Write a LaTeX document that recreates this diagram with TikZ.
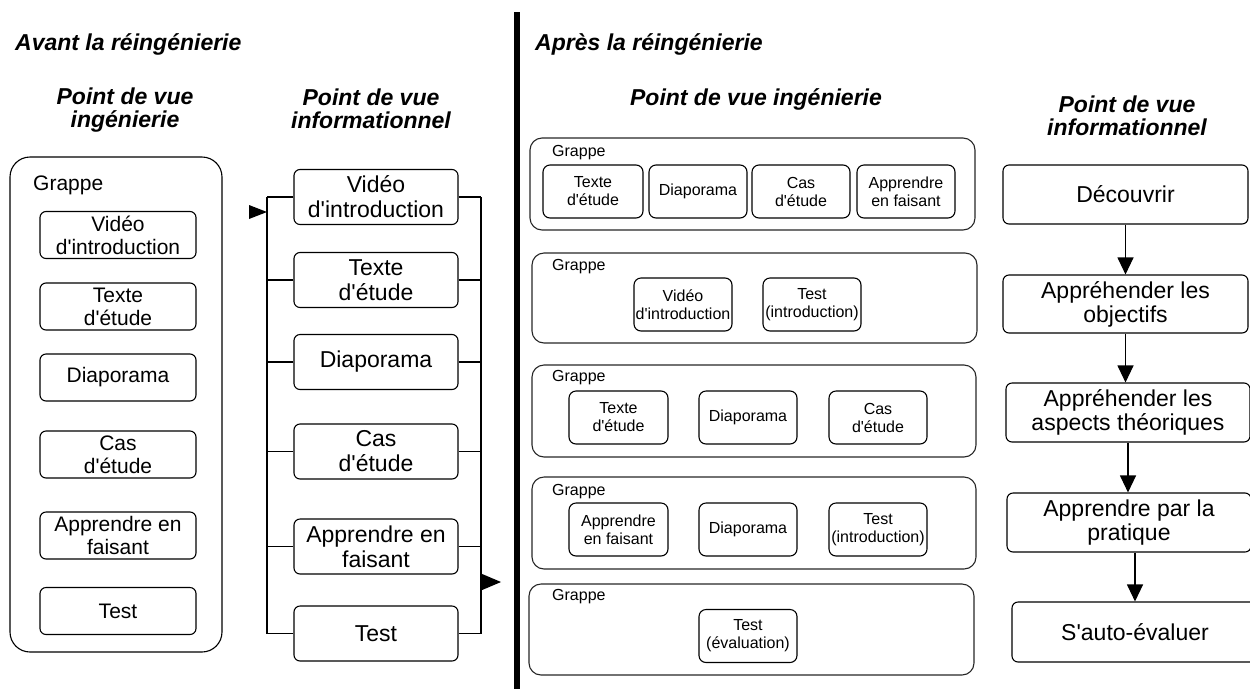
\documentclass[tikz,border=0pt]{standalone}
\usepackage{fontspec}
\setmainfont{Liberation Sans}[Ligatures=TeXOff]
\usetikzlibrary{arrows.meta}
\begin{document}
\begin{tikzpicture}[x=1pt,y=-1pt,
  box/.style={draw, rounded corners=6pt, line width=1.1pt, align=center, inner sep=0pt},
  lbox/.style={box, minimum width=156pt, minimum height=47pt, font=\fontsize{21}{23}\selectfont},
  mbox/.style={box, minimum width=164pt, minimum height=55pt, font=\fontsize{23}{25}\selectfont},
  gbox/.style={box, minimum height=53pt, rounded corners=7pt, font=\fontsize{16}{18}\selectfont},
  rbox/.style={box, minimum height=59pt, font=\fontsize{23}{24}\selectfont},
  grp/.style={draw=black!85, rounded corners=12pt, line width=1.1pt, inner sep=0pt, minimum width=445pt},
  glabel/.style={anchor=west, inner sep=0pt, font=\fontsize{16}{18}\selectfont},
  head/.style={align=center, inner sep=0pt, font=\fontsize{23}{23}\selectfont\bfseries\itshape},
  conn/.style={line width=1.1pt},
  flow/.style={line width=1.1pt, -{Triangle[length=17pt,width=16pt]}}
]
\useasboundingbox (0,0) rectangle (1250,689);

% titles
\node[head, anchor=base west] (t1) at (15,50) {Avant la réingénierie};
\node[head, anchor=base west] (t2) at (535,50) {Après la réingénierie};
\node[head] (h1) at (125,110) {Point de vue\\ingénierie};
\node[head] (h2) at (371,109) {Point de vue\\informationnel};
\node[head, anchor=base] (h3) at (756,105) {Point de vue ingénierie};
\node[head] (h4) at (1127,116) {Point de vue\\informationnel};

% separator
\coordinate (sepT) at (517,12);
\coordinate (sepB) at (517,689);
\draw[line width=6pt] (sepT) -- (sepB);

% left column
\node[draw, rounded corners=20pt, line width=1.1pt, minimum width=212pt, minimum height=495pt, inner sep=0pt] (lg) at (116,404.5) {};
\node[anchor=west, inner sep=0pt, font=\fontsize{21}{23}\selectfont] (lgl) at (33,185) {Grappe};
\node[lbox] (l1) at (118,235) {Vidéo\\d'introduction};
\node[lbox] (l2) at (118,306.5) {Texte\\d'étude};
\node[lbox] (l3) at (118,377.5) {Diaporama};
\node[lbox] (l4) at (118,454.5) {Cas\\d'étude};
\node[lbox] (l5) at (118,535.5) {Apprendre en\\faisant};
\node[lbox] (l6) at (118,611) {Test};

% middle column
\node[mbox] (m1) at (376,197) {Vidéo\\d'introduction};
\node[mbox] (m2) at (376,280) {Texte\\d'étude};
\node[mbox] (m3) at (376,362) {Diaporama};
\node[mbox] (m4) at (376,451.5) {Cas\\d'étude};
\node[mbox] (m5) at (376,546.5) {Apprendre en\\faisant};
\node[mbox] (m6) at (376,633.5) {Test};
\coordinate (lbus) at (267,0);
\coordinate (rbus) at (481,0);
\foreach \i in {1,...,6}{
  \draw[conn] (m\i.west) -- (m\i.west -| lbus);
  \draw[conn] (m\i.east) -- (m\i.east -| rbus);
}
\draw[conn] (m1.west -| lbus) -- (m6.west -| lbus);
\draw[conn] (m1.east -| rbus) -- (m6.east -| rbus);
\coordinate (tipL) at (267,212);
\fill (tipL) -- ++(-18,-7) -- ++(0,14) -- cycle;
\coordinate (tipR) at (501,582);
\fill (tipR) -- ++(-20,-8.5) -- ++(0,17) -- cycle;

% right engineering view
\node[grp] (g1) at (752.5,184) [minimum height=92pt] {};
\node[grp] (g2) at (754.5,298) [minimum height=90pt] {};
\node[grp] (g3) at (754,411) [minimum height=92pt, minimum width=444pt] {};
\node[grp] (g4) at (754,523) [minimum height=92pt, minimum width=444pt] {};
\node[grp] (g5) at (751.5,629.5) [minimum height=91pt] {};
\node[glabel] (g1l) at (552,153) {Grappe};
\node[glabel] (g2l) at (552,267) {Grappe};
\node[glabel] (g3l) at (552,378) {Grappe};
\node[glabel] (g4l) at (552,492) {Grappe};
\node[glabel] (g5l) at (552,597) {Grappe};

\node[gbox, minimum width=100pt] (a1) at (593,191.5) {Texte\\d'étude};
\node[gbox, minimum width=98pt] (a2) at (698,191.5) {Diaporama};
\node[gbox, minimum width=98pt] (a3) at (801,191.5) {Cas\\d'étude};
\node[gbox, minimum width=98pt] (a4) at (906,191.5) {Apprendre\\en faisant};

\node[gbox, minimum width=98pt] (b1) at (683,304.5) {Vidéo\\d'introduction};
\node[gbox, minimum width=98pt] (b2) at (812,304.5) {Test\\(introduction)};

\node[gbox, minimum width=99pt] (c1) at (618.5,417.5) {Texte\\d'étude};
\node[gbox, minimum width=98pt] (c2) at (748,417.5) {Diaporama};
\node[gbox, minimum width=98pt] (c3) at (878,417.5) {Cas\\d'étude};

\node[gbox, minimum width=99pt] (d1) at (618.5,529.5) {Apprendre\\en faisant};
\node[gbox, minimum width=98pt] (d2) at (748,529.5) {Diaporama};
\node[gbox, minimum width=98pt] (d3) at (878,529.5) {Test\\(introduction)};

\node[gbox, minimum width=98pt] (e1) at (748,636) {Test\\(évaluation)};

% right informational view
\node[rbox, minimum width=245pt] (r1) at (1125.5,194.5) {Découvrir};
\node[rbox, minimum width=245pt, minimum height=58pt] (r2) at (1125.5,304) {Appréhender les\\objectifs};
\node[rbox, minimum width=244pt] (r3) at (1128,412.5) {Appréhender les\\aspects théoriques};
\node[rbox, minimum width=244pt] (r4) at (1129,522.5) {Apprendre par la\\pratique};
\node[rbox, minimum width=246pt, minimum height=60pt] (r5) at (1135,632) {S'auto-évaluer};
\draw[flow] (r1.south) -- (r2.north);
\draw[flow] (r2.south) -- (r2.south |- r3.north);
\draw[flow] (r3.south) -- (r3.south |- r4.north);
\draw[flow] (r5.north |- r4.south) -- (r5.north);
\end{tikzpicture}
\end{document}
